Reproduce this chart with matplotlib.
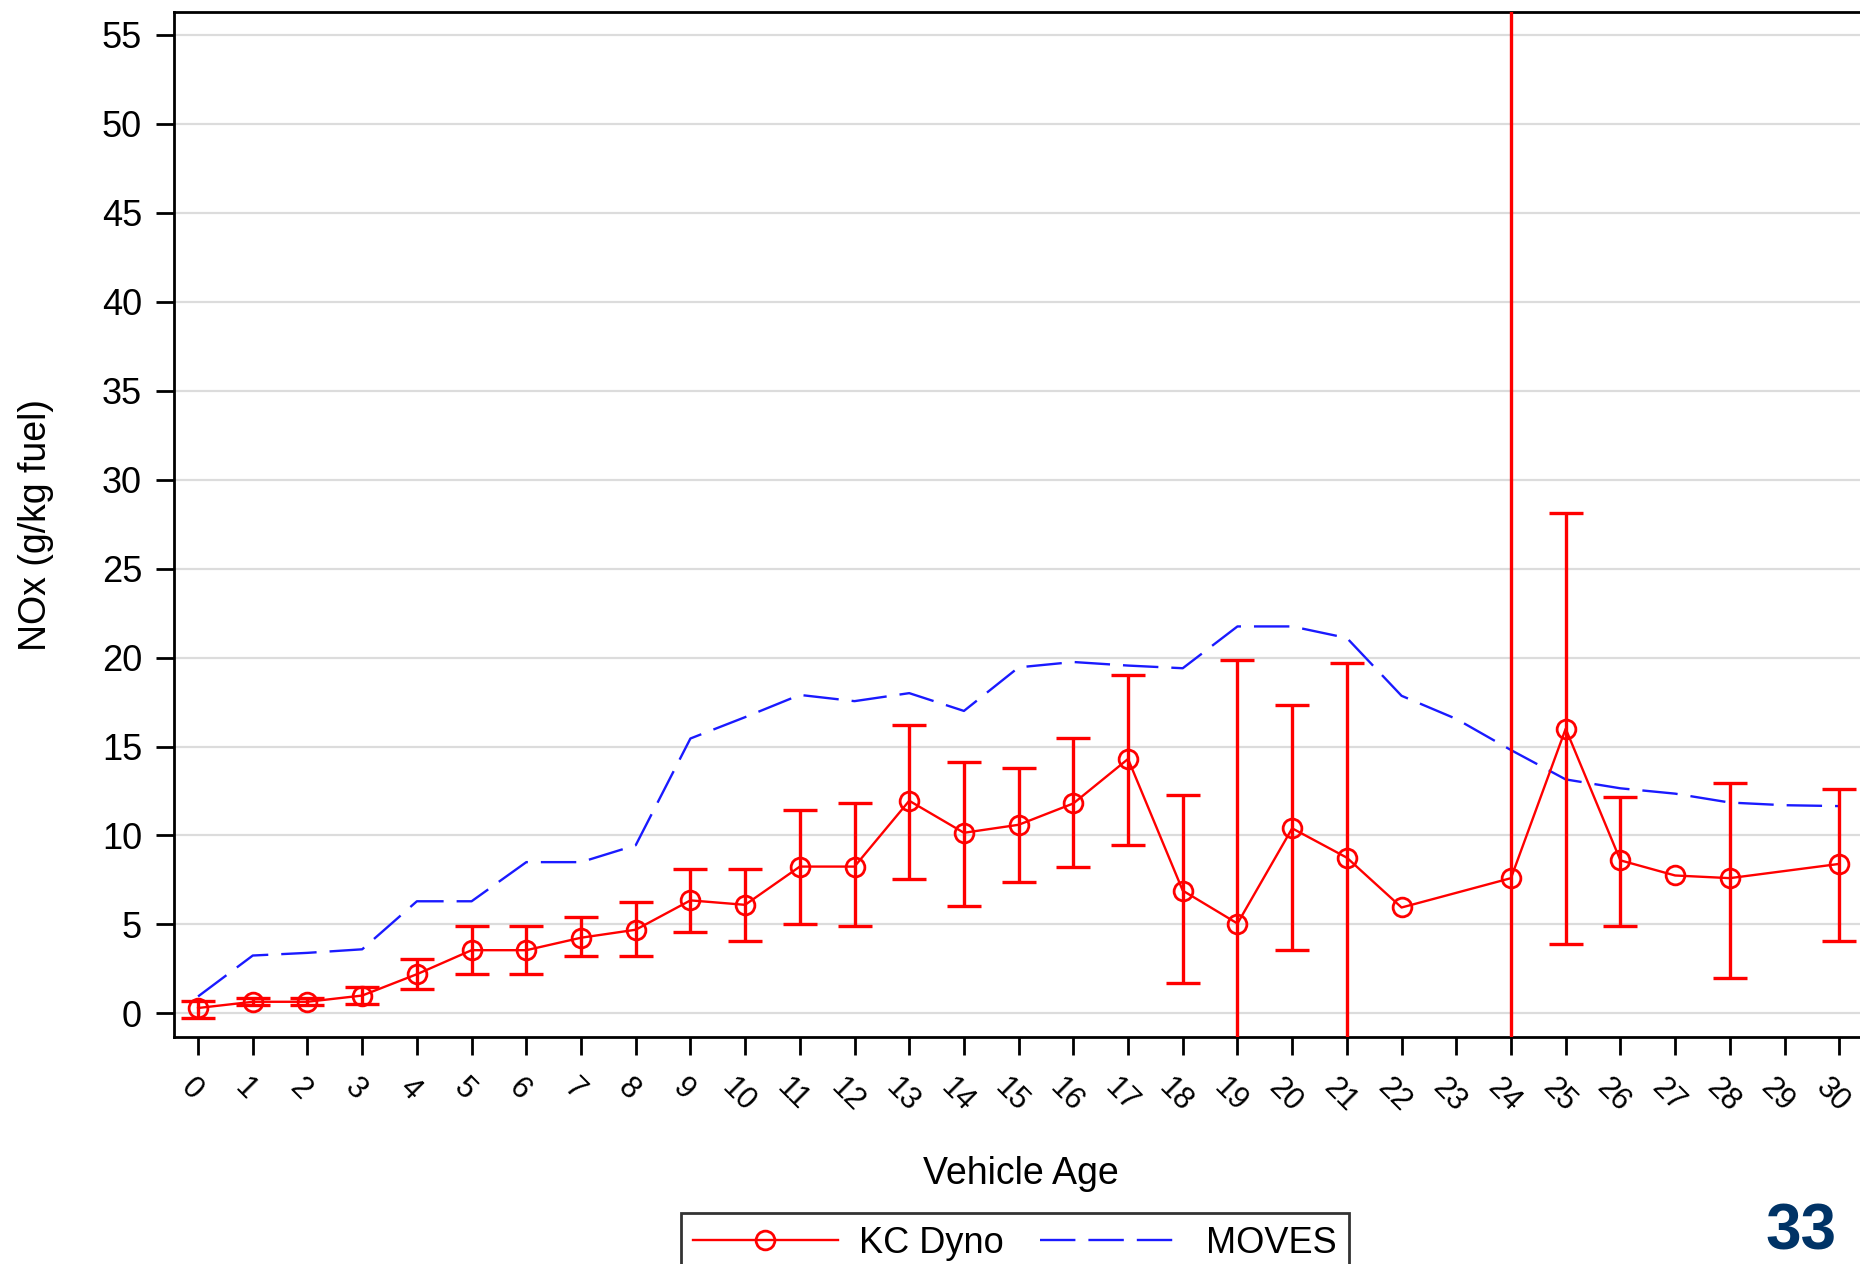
import numpy as np
import matplotlib
matplotlib.use('Agg')
import matplotlib.pyplot as plt
import matplotlib.transforms as mtransforms

plt.rcParams['font.family'] = ['Liberation Sans', 'DejaVu Sans']

# KC Dyno: mean NOx by vehicle age with 95% CI (no cars at age 23 and 29)
kc_age = [0, 1, 2, 3, 4, 5, 6, 7, 8, 9, 10, 11, 12, 13, 14, 15, 16, 17, 18, 19, 20,
          21, 22, 24, 25, 26, 27, 28, 30]
kc_mean = [0.3, 0.65, 0.65, 1.0, 2.2, 3.55, 3.55, 4.25, 4.7, 6.35, 6.1, 8.25, 8.25,
           11.95, 10.15, 10.6, 11.8, 14.3, 6.9, 5.05, 10.4, 8.75, 5.95, 7.6, 16.0,
           8.6, 7.75, 7.6, 8.4]
kc_upper = [0.7, 0.85, 0.85, 1.5, 3.05, 4.9, 4.9, 5.4, 6.25, 8.1, 8.1, 11.45, 11.8,
            16.2, 14.15, 13.8, 15.5, 19.0, 12.3, 19.85, 17.35, 19.7, np.nan, 65.0,
            28.15, 12.15, np.nan, 12.95, 12.6]
kc_lower = [-0.25, 0.45, 0.45, 0.5, 1.35, 2.2, 2.2, 3.2, 3.2, 4.55, 4.05, 5.05, 4.9,
            7.55, 6.05, 7.4, 8.25, 9.45, 1.7, -8.0, 3.55, -8.0, np.nan, -10.0, 3.9,
            4.9, np.nan, 2.0, 4.05]

# MOVES model values by age
moves_age = list(range(31))
moves_nox = [0.95, 3.25, 3.4, 3.6, 6.3, 6.3, 8.5, 8.5, 9.45, 15.45, 16.65, 17.9, 17.55,
             18.0, 17.0, 19.45, 19.75, 19.55, 19.4, 21.75, 21.75, 21.1, 17.85, 16.55,
             14.8, 13.15, 12.65, 12.35, 11.85, 11.7, 11.65]

x_ticks = list(range(31))
y_ticks = list(range(0, 56, 5))

kc_age = np.array(kc_age)
kc_mean = np.array(kc_mean)
kc_upper = np.array(kc_upper)
kc_lower = np.array(kc_lower)
has_ci = ~np.isnan(kc_upper)

fig = plt.figure(figsize=(18.6, 12.64), dpi=100)
ax = fig.add_axes([174/1860, 1 - 1037/1264, 1 - 174/1860, (1037 - 12)/1264])

ax.errorbar(kc_age[has_ci], kc_mean[has_ci],
            yerr=[kc_mean[has_ci] - kc_lower[has_ci], kc_upper[has_ci] - kc_mean[has_ci]],
            fmt='none', ecolor='#ff0000', elinewidth=2.4, capsize=12, capthick=2.4, zorder=3)
kc_line, = ax.plot(kc_age, kc_mean, color='#ff0000', lw=1.7, marker='o', ms=13.5,
                   mfc='none', mec='#ff0000', mew=2.0, zorder=4, label='KC Dyno')
moves_line, = ax.plot(moves_age, moves_nox, color='#1a1aff', lw=1.7, zorder=2, label='MOVES')
moves_line.set_dashes([15, 5.5])

ax.set_xlim(-0.44, 30.38)
ax.set_ylim(-1.33, 56.29)
ax.set_yticks(y_ticks)
ax.set_xticks(x_ticks)
ax.yaxis.grid(True, color='#dcdcdc', lw=1.6)
ax.set_axisbelow(True)

for side in ['left', 'top', 'bottom']:
    ax.spines[side].set_linewidth(2)
ax.spines['right'].set_visible(False)

ax.tick_params(axis='y', length=13, width=2, pad=10, labelsize=26, colors='black')
ax.tick_params(axis='x', length=13, width=2, pad=13, labelsize=22)
offset = mtransforms.ScaledTranslation(-7/100, 0, fig.dpi_scale_trans)
for lab in ax.get_xticklabels():
    lab.set_rotation(-45)
    lab.set_ha('center')
    lab.set_transform(lab.get_transform() + offset)

fig.text(36/1860, 1 - 525/1264, 'NOx (g/kg fuel)', rotation=90, ha='center',
         va='center', fontsize=27)
fig.text(1021/1860, 1 - 1184/1264, 'Vehicle Age', ha='center', va='baseline',
         fontsize=27)

leg = fig.legend(handles=[kc_line, moves_line], loc='upper center', ncol=2,
                 bbox_to_anchor=(1015/1860, 1 - 1213/1264), fontsize=26,
                 frameon=True, fancybox=False, edgecolor='black', handlelength=4,
                 handletextpad=0.6, columnspacing=1.0, borderpad=0.35,
                 borderaxespad=0)
leg.get_frame().set_linewidth(2)

# slide number
fig.text(1836/1860, 1/1264, '33', ha='right', va='bottom', fontsize=46,
         fontweight='bold', color='#003366')

fig.savefig('out.png', dpi=100)
